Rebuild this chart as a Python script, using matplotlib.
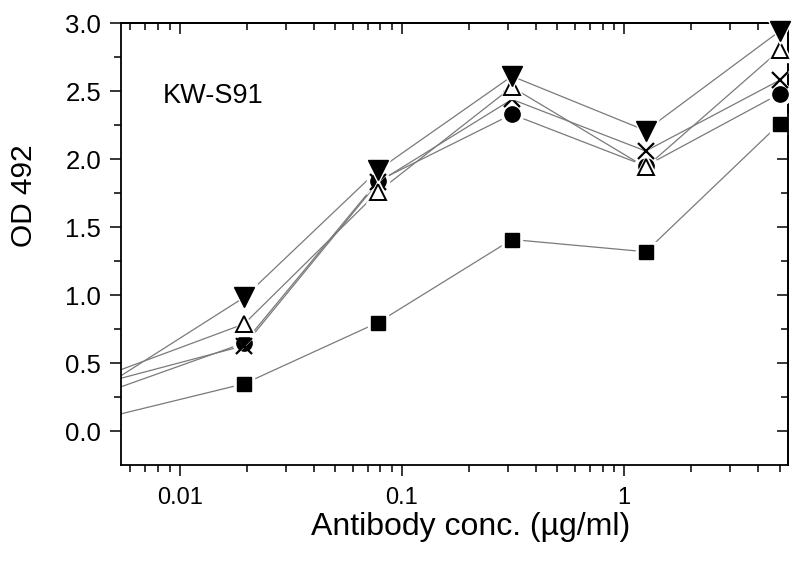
import numpy as np
import matplotlib
matplotlib.use('Agg')
import matplotlib.pyplot as plt
from matplotlib.ticker import FixedLocator, LogLocator, MultipleLocator, FormatStrFormatter, NullFormatter

plt.rcParams['font.family'] = ['Liberation Sans', 'DejaVu Sans']

# 4-fold dilutions, first one lies just outside the plotted range
conc = [0.00488, 0.0195, 0.078, 0.3125, 1.25, 5.0]

od_square = [0.11, 0.35, 0.80, 1.41, 1.32, 2.26]
od_circle = [0.30, 0.65, 1.84, 2.33, 1.95, 2.48]
od_cross = [0.37, 0.63, 1.83, 2.44, 2.06, 2.58]
od_open_tri = [0.425, 0.79, 1.76, 2.53, 1.94, 2.80]
od_down_tri = [0.36, 0.985, 1.92, 2.61, 2.21, 2.94]

series = [
    (od_square, dict(marker='s', ms=10, mfc='black', mec='black', mew=1)),
    (od_circle, dict(marker='o', ms=11, mfc='black', mec='black', mew=1)),
    (od_cross, dict(marker='x', ms=12, mfc='none', mec='black', mew=1.6)),
    (od_open_tri, dict(marker='^', ms=12, mfc='white', mec='black', mew=1.4)),
    (od_down_tri, dict(marker='v', ms=14, mfc='black', mec='black', mew=1)),
]

fig = plt.figure(figsize=(8, 5.64), dpi=100)
ax = fig.add_axes([0.151, 0.176, 0.834, 0.783])
ax.set_xscale('log')

for vals, style in series:
    ax.plot(conc, vals, color='#7a7a7a', lw=0.9, zorder=1)
for i, (vals, style) in enumerate(series):
    ax.plot(conc[1:], vals[1:], ls='none', marker=style['marker'],
            ms=style['ms'] + 5, mfc='white', mec='white', mew=1,
            zorder=2 + 2 * i, clip_on=False)
    ax.plot(conc[1:], vals[1:], ls='none', zorder=3 + 2 * i,
            clip_on=False, **style)

ax.set_xlim(0.00543, 5.46)
ax.set_ylim(-0.245, 3.0)

ax.xaxis.set_major_locator(FixedLocator([0.01, 0.1, 1]))
ax.xaxis.set_major_formatter(FormatStrFormatter('%g'))
ax.xaxis.set_minor_locator(LogLocator(base=10, subs=np.arange(2, 10)))
ax.xaxis.set_minor_formatter(NullFormatter())
ax.yaxis.set_major_locator(MultipleLocator(0.5))
ax.yaxis.set_minor_locator(MultipleLocator(0.25))
ax.yaxis.set_major_formatter(FormatStrFormatter('%.1f'))

ax.tick_params(which='both', direction='out', top=False, right=False,
               width=1.1)
ax.tick_params(which='major', length=8)
ax.tick_params(which='minor', length=5)
ax.tick_params(axis='x', which='major', labelsize=17, pad=8)
ax.tick_params(axis='y', which='major', labelsize=18.5, pad=6)

# inward ticks on the top and right edges
sec_x = ax.secondary_xaxis('top')
sec_x.xaxis.set_major_locator(FixedLocator([0.01, 0.1, 1]))
sec_x.xaxis.set_minor_locator(LogLocator(base=10, subs=np.arange(2, 10)))
sec_x.tick_params(which='both', direction='in', labeltop=False, width=1.1)
sec_x.tick_params(which='major', length=8)
sec_x.tick_params(which='minor', length=5)
sec_x.xaxis.set_minor_formatter(NullFormatter())
sec_x.spines['top'].set_linewidth(1.3)
sec_y = ax.secondary_yaxis('right')
sec_y.yaxis.set_major_locator(MultipleLocator(0.5))
sec_y.yaxis.set_minor_locator(MultipleLocator(0.25))
sec_y.tick_params(which='both', direction='in', labelright=False, width=1.1)
sec_y.tick_params(which='major', length=8)
sec_y.tick_params(which='minor', length=5)
sec_y.spines['right'].set_linewidth(1.3)

for sp in ax.spines.values():
    sp.set_linewidth(1.3)

ax.set_xlabel('Antibody conc. (\u00b5g/ml)', fontsize=23)
ax.xaxis.set_label_coords(0.525, -0.108)
ax.set_ylabel('OD 492', fontsize=21.5)
ax.yaxis.set_label_coords(-0.124, 0.61)
ax.text(0.063, 0.82, 'KW-S91', transform=ax.transAxes, fontsize=19.5)

fig.savefig('out.png', dpi=100)
